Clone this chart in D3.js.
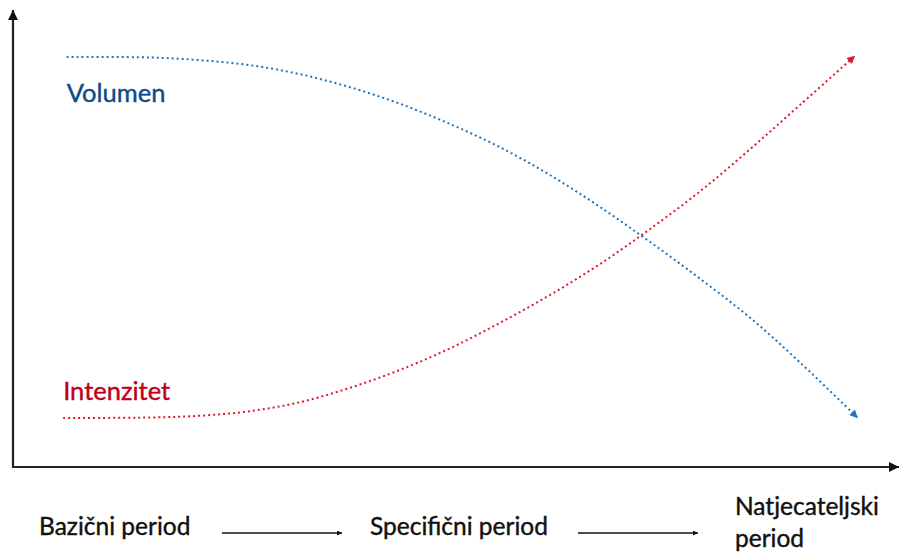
<!DOCTYPE html>
<html>
<head>
<meta charset="utf-8">
<script src="https://cdn.jsdelivr.net/npm/d3@7"></script>
<style>
  body { margin: 0; background: #fff; }
  text { font-family: Lato, "Open Sans", sans-serif; }
</style>
</head>
<body>
<svg id="chart" width="901" height="559"></svg>
<script>
// training phase progress (0-100) vs relative load level (0-100)
var progress = [6.1, 15.6, 21.3, 26.9, 32.6, 38.3, 44.0, 49.7, 55.3, 61.0, 66.7, 72.4, 78.1, 83.8, 89.4, 96.0];
var volumen = [91.1, 91.0, 90.4, 89.3, 87.3, 84.4, 80.7, 76.2, 71.1, 64.9, 57.8, 50.0, 41.8, 33.1, 23.3, 10.9];

var progressI = [5.7, 15.6, 21.3, 26.9, 32.6, 38.3, 44.0, 49.7, 55.3, 61.0, 66.7, 72.4, 78.1, 83.8, 89.4, 95.7];
var intenzitet = [10.9, 11.0, 11.4, 12.4, 14.4, 17.6, 21.6, 26.4, 32.0, 38.2, 45.1, 52.9, 61.3, 70.7, 80.4, 91.4];

var seriesNames = ["Volumen", "Intenzitet"];
var periods = ["Bazični period", "Specifični period", "Natjecateljski|period"];

var svg = d3.select("#chart");

var x = d3.scaleLinear().domain([0, 100]).range([13, 893]);
var y = d3.scaleLinear().domain([0, 100]).range([467, 17]);

var defs = svg.append("defs");
function marker(id, color, w, h) {
  defs.append("marker")
    .attr("id", id)
    .attr("viewBox", "0 0 10 10")
    .attr("refX", 10)
    .attr("refY", 5)
    .attr("markerUnits", "userSpaceOnUse")
    .attr("markerWidth", w)
    .attr("markerHeight", h)
    .attr("orient", "auto")
    .append("path")
    .attr("d", "M0,0 L10,5 L0,10 Z")
    .attr("fill", color);
}
marker("arrAxis", "#111", 12, 10);
marker("arrBlue", "#1f74bd", 9, 8);
marker("arrRed", "#e0192b", 9, 8);
marker("arrSmall", "#111", 6, 5);

// axes without ticks, arrows on domain lines
var xAxis = svg.append("g")
  .attr("transform", "translate(0," + y(0) + ")")
  .call(d3.axisBottom(x).tickValues([]).tickSizeOuter(0));
xAxis.select(".domain")
  .attr("d", "M" + x(0) + ",0H" + (x(100) + 6))
  .attr("stroke", "#222")
  .attr("stroke-width", 2.2)
  .attr("marker-end", "url(#arrAxis)");

var yAxis = svg.append("g")
  .attr("transform", "translate(" + x(0) + ",0)")
  .call(d3.axisLeft(y).tickValues([]).tickSizeOuter(0));
yAxis.select(".domain")
  .attr("d", "M0," + (y(0) + 1) + "V" + (y(100) - 7))
  .attr("stroke", "#222")
  .attr("stroke-width", 2.2)
  .attr("marker-end", "url(#arrAxis)");

var line = d3.line()
  .x(d => x(d[0]))
  .y(d => y(d[1]))
  .curve(d3.curveCatmullRom);

svg.append("path")
  .datum(d3.zip(progress, volumen))
  .attr("d", line)
  .attr("fill", "none")
  .attr("stroke", "#1f74bd")
  .attr("stroke-width", 2)
  .attr("stroke-dasharray", "2,3")
  .attr("marker-end", "url(#arrBlue)");

svg.append("path")
  .datum(d3.zip(progressI, intenzitet))
  .attr("d", line)
  .attr("fill", "none")
  .attr("stroke", "#e0192b")
  .attr("stroke-width", 2)
  .attr("stroke-dasharray", "2,3")
  .attr("marker-end", "url(#arrRed)");

svg.append("text")
  .attr("x", x(progress[0]))
  .attr("y", 102)
  .attr("font-size", 25.5)
  .attr("fill", "#0e4a8c")
  .attr("stroke", "#0e4a8c")
  .attr("stroke-width", 0.4)
  .text(seriesNames[0]);

svg.append("text")
  .attr("x", x(progressI[0]))
  .attr("y", 400)
  .attr("font-size", 25.5)
  .attr("fill", "#c00018")
  .attr("stroke", "#c00018")
  .attr("stroke-width", 0.4)
  .text(seriesNames[1]);

// period labels along the bottom
var labelX = [39, 370, 735];
periods.forEach(function(p, i) {
  var t = svg.append("text")
    .attr("x", labelX[i])
    .attr("y", i === 2 ? 515 : 535)
    .attr("font-size", 24.5)
    .attr("fill", "#111")
    .attr("stroke", "#111")
    .attr("stroke-width", 0.4);
  p.split("|").forEach(function(part, j) {
    t.append("tspan")
      .attr("x", labelX[i])
      .attr("dy", j === 0 ? 0 : 32)
      .text(part);
  });
});

// small arrows between the period labels
[[222, 342], [578, 698]].forEach(function(a) {
  svg.append("line")
    .attr("x1", a[0]).attr("x2", a[1])
    .attr("y1", 533).attr("y2", 533)
    .attr("stroke", "#111")
    .attr("stroke-width", 1.3)
    .attr("marker-end", "url(#arrSmall)");
});
</script>
</body>
</html>
